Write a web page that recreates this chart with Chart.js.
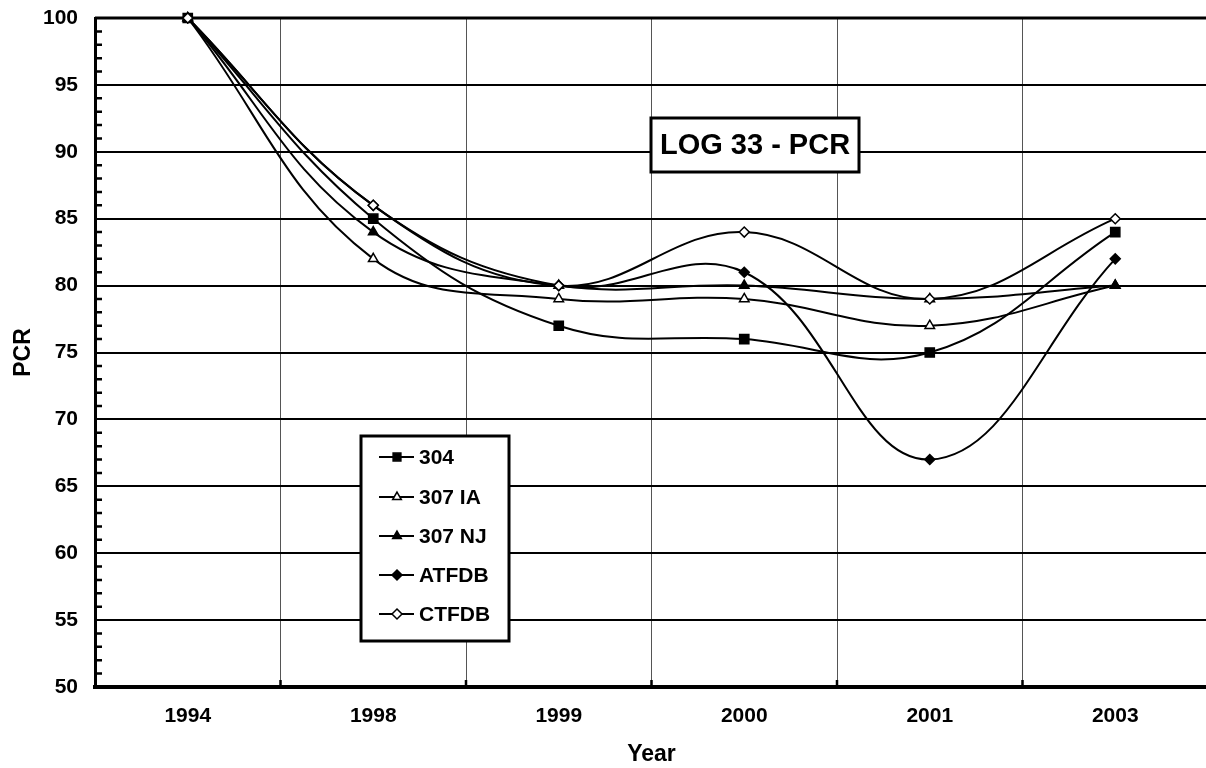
<!DOCTYPE html>
<html>
<head>
<meta charset="utf-8">
<script src="https://cdn.jsdelivr.net/npm/chart.js@4.4.0/dist/chart.umd.min.js"></script>
<style>
html,body{margin:0;padding:0;background:#fff;overflow:hidden}
#wrap{position:relative;width:1216px;height:768px}
</style>
</head>
<body>
<div id="wrap"><canvas id="c"></canvas></div>
<script>
// ---- data ----
const YEARS=['1994','1998','1999','2000','2001','2003'];
const S304=[100,85,77,76,75,84];
const S307IA=[100,82,79,79,77,80];
const S307NJ=[100,84,80,80,79,80];
const ATFDB=[100,86,80,81,67,82];
const CTFDB=[100,86,80,84,79,85];
const Y_MIN=50,Y_MAX=100,Y_MAJOR=5;
const TITLE='LOG 33 - PCR';
const X_TITLE='Year',Y_TITLE='PCR';

const FONT='"Liberation Sans", Arial, sans-serif';
Chart.defaults.font.family=FONT;
Chart.defaults.font.weight='bold';
Chart.defaults.color='#000';

function ds(label,data,style,fill,r,order){
  return {label,data,order,borderColor:'#000',borderWidth:2,tension:0.4,clip:10,
    pointStyle:style,pointRadius:r,pointHoverRadius:r,pointBackgroundColor:fill,
    pointBorderColor:'#000',pointBorderWidth:1.5};
}

// simple marker painter for the custom legend
function marker(ctx,d,x,y,r){
  ctx.beginPath();
  if(d.pointStyle==='rect'){const s=r*Math.SQRT1_2;ctx.rect(x-s,y-s,2*s,2*s);}
  else if(d.pointStyle==='triangle'){
    ctx.moveTo(x,y-r);ctx.lineTo(x+r*0.866,y+r*0.5);ctx.lineTo(x-r*0.866,y+r*0.5);ctx.closePath();
  }else{ctx.moveTo(x,y-r);ctx.lineTo(x+r,y);ctx.lineTo(x,y+r);ctx.lineTo(x-r,y);ctx.closePath();}
  ctx.fillStyle=d.pointBackgroundColor;ctx.fill();
  ctx.lineWidth=1.5;ctx.strokeStyle='#000';ctx.stroke();
}

const frame={id:'frame',
  beforeDatasetsDraw(chart){
    const {ctx,chartArea:a,scales:{x,y}}=chart;
    ctx.save();ctx.strokeStyle='#000';
    ctx.lineWidth=3;ctx.beginPath();ctx.moveTo(a.left,a.top);ctx.lineTo(a.right,a.top);ctx.stroke();
    // minor ticks inside the y axis
    ctx.lineWidth=2.5;ctx.beginPath();
    y.ticks.forEach(t=>{if(t.value%Y_MAJOR===0)return;const py=y.getPixelForValue(t.value);ctx.moveTo(a.left,py);ctx.lineTo(a.left+7,py);});
    // short ticks on the x axis at category boundaries
    for(let i=1;i<YEARS.length;i++){const px=(x.getPixelForValue(i-1)+x.getPixelForValue(i))/2;ctx.moveTo(px,a.bottom);ctx.lineTo(px,a.bottom-7);}
    ctx.stroke();ctx.restore();
  },
  afterDatasetsDraw(chart){
    const {ctx}=chart;
    ctx.save();
    // title box
    ctx.fillStyle='#fff';ctx.fillRect(651,118,208,54);
    ctx.lineWidth=3;ctx.strokeStyle='#000';ctx.strokeRect(651,118,208,54);
    ctx.fillStyle='#000';ctx.font='bold 29px '+FONT;ctx.textAlign='center';ctx.textBaseline='middle';
    ctx.fillText(TITLE,755,146);
    // legend box
    ctx.fillStyle='#fff';ctx.fillRect(361,436,148,205);
    ctx.strokeRect(361,436,148,205);
    ctx.font='bold 21px '+FONT;ctx.textAlign='left';
    const rows=[457,497,536,575,614];
    chart.data.datasets.forEach((d,i)=>{
      const yy=rows[i];
      ctx.lineWidth=2;ctx.strokeStyle='#000';ctx.beginPath();ctx.moveTo(379,yy);ctx.lineTo(414,yy);ctx.stroke();
      marker(ctx,d,397,yy,d.pointStyle==='rect'?5.5:5);
      ctx.fillStyle='#000';ctx.fillText(d.label,419,yy+1);
    });
    ctx.restore();
  }
};

new Chart(document.getElementById('c'),{
  type:'line',
  data:{labels:YEARS,datasets:[
    ds('304',S304,'rect','#000',6.5,4),
    ds('307 IA',S307IA,'triangle','#fff',5.5,3),
    ds('307 NJ',S307NJ,'triangle','#000',5.5,2),
    ds('ATFDB',ATFDB,'rectRot','#000',5,1),
    ds('CTFDB',CTFDB,'rectRot','#fff',5,0)
  ]},
  options:{
    responsive:true,maintainAspectRatio:false,animation:false,
    layout:{padding:{top:18,right:5,left:0,bottom:0}},
    plugins:{legend:{display:false},tooltip:{enabled:false}},
    scales:{
      x:{offset:true,
        grid:{offset:true,color:'#555',lineWidth:1,drawTicks:false},
        border:{color:'#000',width:4},
        ticks:{padding:17,font:{size:21,weight:'bold'},color:'#000'},
        title:{display:true,text:X_TITLE,font:{size:23,weight:'bold'},color:'#000',padding:{top:0,bottom:0}},
        afterFit(s){s.height=81;}
      },
      y:{min:Y_MIN,max:Y_MAX,
        grid:{color:c=>c.tick&&c.tick.value%Y_MAJOR===0?'#000':'rgba(0,0,0,0)',lineWidth:2,drawTicks:false},
        border:{color:'#000',width:3},
        ticks:{stepSize:1,autoSkip:false,padding:17,font:{size:21,weight:'bold'},color:'#000',
          callback:v=>v%Y_MAJOR===0?v:''},
        title:{display:true,text:Y_TITLE,font:{size:23,weight:'bold'},color:'#000',padding:{top:10,bottom:0}},
        afterFit(s){s.width=95;s.paddingTop=0;s.paddingBottom=0;}
      }
    }
  },
  plugins:[frame]
});
</script>
</body>
</html>
